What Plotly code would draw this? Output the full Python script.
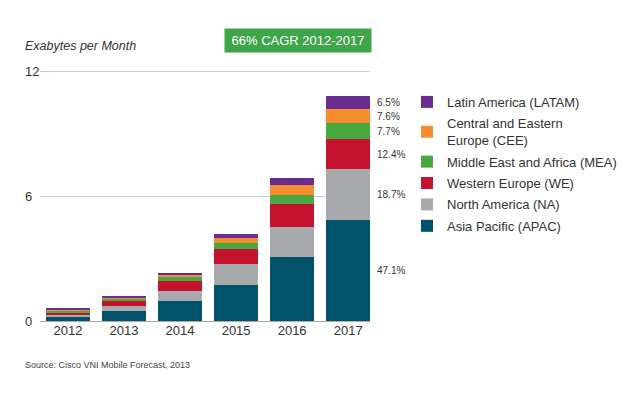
import plotly.graph_objects as go

years = ["2012", "2013", "2014", "2015", "2016", "2017"]
apac = [0.17, 0.47, 0.98, 1.73, 3.07, 4.86]
na = [0.13, 0.24, 0.48, 1.02, 1.44, 2.45]
we = [0.13, 0.27, 0.48, 0.73, 1.10, 1.41]
mea = [0.06, 0.09, 0.17, 0.28, 0.44, 0.79]
cee = [0.06, 0.08, 0.13, 0.24, 0.47, 0.66]
latam = [0.05, 0.07, 0.08, 0.19, 0.36, 0.62]
region_names = ["Asia Pacific (APAC)", "North America (NA)", "Western Europe (WE)",
                "Middle East and Africa (MEA)", "Central and Eastern<br>Europe (CEE)",
                "Latin America (LATAM)"]
shares_2017 = ["47.1%", "18.7%", "12.4%", "7.7%", "7.6%", "6.5%"]
y_ticks = [0, 6, 12]

colors = ["#00536B", "#A7A9AC", "#C4122F", "#48A842", "#F68D2E", "#6A2C91"]
series = [apac, na, we, mea, cee, latam]

FONT = "Liberation Sans, Arial, sans-serif"
OFF = 8  # page body margin
W, H = 631 - OFF, 394 - OFF
L, R, T, B = 40 - OFF, 370 - OFF, 70 - OFF, 321.5 - OFF
pw, ph = R - L, B - T


def px_x(p):
    return (p - OFF - L) / pw


def px_y(p):
    return (B - (p - OFF)) / ph


fig = go.Figure()
n = len(series)
for i, (name, vals, col) in enumerate(zip(region_names, series, colors)):
    fig.add_trace(go.Bar(x=years, y=vals, name=name, marker_color=col,
                         marker_line_width=0, legendgroup=name,
                         legendrank=(n - i) * 10))

# percentage labels next to the 2017 bar
cum = 0
last = len(years) - 1
for vals, lab in zip(series, shares_2017):
    v = vals[last]
    fig.add_annotation(x=last, y=cum + v / 2, text=lab, xref="x", yref="y",
                       xanchor="left", yanchor="middle", xshift=27, showarrow=False,
                       font=dict(size=10, color="#333333", family=FONT))
    cum += v

# y tick labels (left aligned)
for t in y_ticks:
    fig.add_annotation(x=px_x(23), y=t, xref="paper", yref="y", text=str(t),
                       xanchor="left", yanchor="middle", showarrow=False,
                       font=dict(size=13, color="#333333", family=FONT))

fig.add_annotation(x=px_x(23), y=px_y(46), xref="paper", yref="paper",
                   text="<i>Exabytes per Month</i>", xanchor="left", yanchor="middle",
                   showarrow=False, font=dict(size=12.5, color="#333333", family=FONT))
fig.add_annotation(x=px_x(298), y=px_y(40.5), xref="paper", yref="paper",
                   text="66% CAGR 2012-2017", xanchor="center", yanchor="middle",
                   showarrow=False, bgcolor="#3EA548", width=144, height=21,
                   font=dict(size=13, color="white", family=FONT))
fig.add_annotation(x=px_x(23), y=px_y(366), xref="paper", yref="paper",
                   text="Source: Cisco VNI Mobile Forecast, 2013", xanchor="left",
                   yanchor="middle", showarrow=False,
                   font=dict(size=9, color="#444444", family=FONT))

fig.update_layout(
    width=W, height=H, barmode="stack", bargap=0.21,
    margin=dict(l=L, r=W - R, t=T, b=H - B, autoexpand=False),
    paper_bgcolor="white", plot_bgcolor="white",
    font=dict(family=FONT, color="#333333"),
    xaxis=dict(type="category", range=[-0.5, 5.39], showgrid=False, showline=False,
               ticks="", tickfont=dict(size=13, color="#333333")),
    yaxis=dict(range=[0, 12.05], tickvals=y_ticks, showticklabels=False,
               showgrid=True, gridcolor="#CCCCCC", gridwidth=1,
               zeroline=True, zerolinecolor="#AAAAAA", zerolinewidth=1, showline=False),
    legend=dict(x=px_x(407), y=px_y(87), xanchor="left", yanchor="top",
                traceorder="grouped", tracegroupgap=1.5,
                font=dict(size=13, color="#333333", family=FONT),
                bgcolor="rgba(0,0,0,0)"),
)

fig.write_html("out.html")
